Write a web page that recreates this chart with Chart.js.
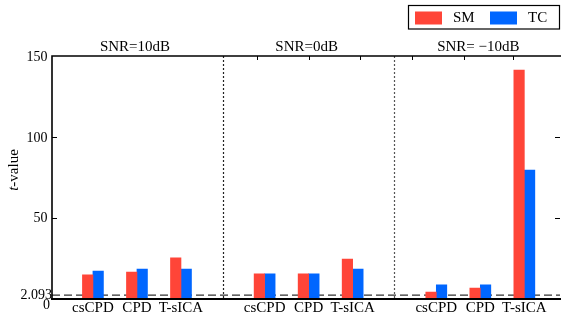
<!DOCTYPE html>
<html>
<head>
<meta charset="utf-8">
<script src="https://cdn.jsdelivr.net/npm/chart.js@4/dist/chart.umd.min.js"></script>
<style>
  html, body { margin: 0; padding: 0; background: #fff; }
  canvas { display: block; }
</style>
</head>
<body>
<canvas id="tChart" width="561" height="324"></canvas>
<script>
// données
const groupes = ["SNR=10dB", "SNR=0dB", "SNR= \u221210dB"];
const methodes = ["csCPD", "CPD", "T-sICA"];
const valeursSM = [14.7, 16.4, 25.2,  15.2, 15.2, 24.4,  4.0, 6.5, 141.3];
const valeursTC = [17.0, 18.2, 18.2,  15.2, 15.3, 18.2,  8.5, 8.5, 79.5];
const yTicks = [0, 2.093, 50, 100, 150];
const seuil = 2.093;

const SM_COULEUR = "#ff4538";
const TC_COULEUR = "#0066ff";
const PAS_GROUPE = 3.9;
const SERIF = "'Liberation Serif', 'DejaVu Serif', serif";

// position de chaque barre sur l'axe x (groupe * pas + indice méthode)
const positions = [];
groupes.forEach((g, gi) => methodes.forEach((m, mi) => positions.push(gi * PAS_GROUPE + mi)));

const pointsSM = valeursSM.map((v, i) => ({ x: positions[i], y: v }));
const pointsTC = valeursTC.map((v, i) => ({ x: positions[i], y: v }));

// petites graduations en haut du cadre
const ticksHaut = [3.73, 4.91, 6.07, 7.25, 8.43, 9.55];

const decor = {
  id: "decor",
  beforeDatasetsDraw(chart) {
    const { ctx, chartArea: a, scales: { x, y } } = chart;
    ctx.save();
    // ligne du seuil
    const ys = y.getPixelForValue(seuil);
    ctx.strokeStyle = "#333";
    ctx.lineWidth = 1.3;
    ctx.setLineDash([8, 4]);
    ctx.beginPath();
    ctx.moveTo(a.left, ys);
    ctx.lineTo(a.right, ys);
    ctx.stroke();
    // séparateurs entre groupes
    ctx.setLineDash([2, 2]);
    ctx.lineWidth = 1.2;
    for (let g = 1; g < groupes.length; g++) {
      const xv = ((g - 1) * PAS_GROUPE + methodes.length - 1 + g * PAS_GROUPE) / 2;
      const xp = Math.round(x.getPixelForValue(xv)) + 0.5;
      ctx.strokeStyle = g === 1 ? "#222" : "#555";
      ctx.beginPath();
      ctx.moveTo(xp, a.top);
      ctx.lineTo(xp, a.bottom);
      ctx.stroke();
    }
    ctx.restore();
  },
  afterDatasetsDraw(chart) {
    const { ctx, chartArea: a, scales: { x, y } } = chart;
    const W = chart.width;
    ctx.save();
    ctx.setLineDash([]);
    ctx.strokeStyle = "#000";

    // cadre
    ctx.lineWidth = 1.6;
    ctx.beginPath();
    ctx.moveTo(a.left, a.bottom + 1);
    ctx.lineTo(a.left, a.top);
    ctx.lineTo(W, a.top);
    ctx.stroke();
    ctx.lineWidth = 2;
    ctx.beginPath();
    ctx.moveTo(a.left - 1, a.bottom + 0.5);
    ctx.lineTo(W, a.bottom + 0.5);
    ctx.stroke();

    // graduations
    ctx.lineWidth = 1;
    [50, 100].forEach((v) => {
      const yp = Math.round(y.getPixelForValue(v)) + 0.5;
      ctx.beginPath();
      ctx.moveTo(a.left, yp);
      ctx.lineTo(a.left + 5, yp);
      ctx.moveTo(a.right, yp);
      ctx.lineTo(a.right - 5, yp);
      ctx.stroke();
    });
    ticksHaut.forEach((v) => {
      const xp = Math.round(x.getPixelForValue(v)) + 0.5;
      ctx.beginPath();
      ctx.moveTo(xp, a.top);
      ctx.lineTo(xp, a.top + 4);
      ctx.stroke();
    });

    // libellés axe y
    ctx.fillStyle = "#000";
    ctx.font = "14px " + SERIF;
    ctx.textAlign = "right";
    ctx.textBaseline = "middle";
    yTicks.forEach((v) => {
      const yp = y.getPixelForValue(v);
      if (v === 0) ctx.fillText("0", a.left - 2, yp + 7);
      else if (v === seuil) ctx.fillText(String(v), a.left, yp);
      else ctx.fillText(String(v), a.left - 4.5, yp + 1);
    });

    // libellés axe x
    ctx.font = "15px " + SERIF;
    ctx.textAlign = "center";
    positions.forEach((p, i) => {
      ctx.fillText(methodes[i % methodes.length], x.getPixelForValue(p), a.bottom + 10);
    });

    // titres des groupes
    groupes.forEach((g, gi) => {
      ctx.fillText(g, x.getPixelForValue(gi * PAS_GROUPE + 1) - 2, a.top - 8.5);
    });

    // titre axe y : t en italique
    ctx.translate(14.5, 170);
    ctx.rotate(-Math.PI / 2);
    ctx.textAlign = "left";
    ctx.font = "italic 15px " + SERIF;
    const wT = ctx.measureText("t").width;
    ctx.font = "15px " + SERIF;
    const wR = ctx.measureText("-value").width;
    const x0 = -(wT + wR) / 2;
    ctx.font = "italic 15px " + SERIF;
    ctx.fillText("t", x0, 0);
    ctx.font = "15px " + SERIF;
    ctx.fillText("-value", x0 + wT, 0);
    ctx.setTransform(1, 0, 0, 1, 0, 0);

    // légende
    ctx.lineWidth = 1.2;
    ctx.strokeRect(408.5, 5.5, 151, 23.5);
    const items = [[415, 453], [490, 528]];
    chart.data.datasets.forEach((ds, i) => {
      ctx.fillStyle = ds.backgroundColor;
      ctx.fillRect(items[i][0], 11.5, 27, 13);
      ctx.fillStyle = "#000";
      ctx.textAlign = "left";
      ctx.fillText(ds.label, items[i][1], 18.5);
    });
    ctx.restore();
  }
};

const canvas = document.querySelector("#tChart");

new Chart(canvas.getContext("2d"), {
  type: "bar",
  data: {
    datasets: [
      { label: "SM", data: pointsSM, backgroundColor: SM_COULEUR, barThickness: 10.5 },
      { label: "TC", data: pointsTC, backgroundColor: TC_COULEUR, barThickness: 10.5 }
    ]
  },
  options: {
    responsive: false,
    animation: false,
    devicePixelRatio: 1,
    layout: { padding: { left: 52, top: 56, right: 1, bottom: 25.5 } },
    scales: {
      x: { type: "linear", display: false, offset: false, min: -0.93, max: 10.61 },
      y: { display: false, min: 0, max: 150 }
    },
    plugins: {
      legend: { display: false },
      tooltip: { enabled: false }
    }
  },
  plugins: [decor]
});
</script>
</body>
</html>
